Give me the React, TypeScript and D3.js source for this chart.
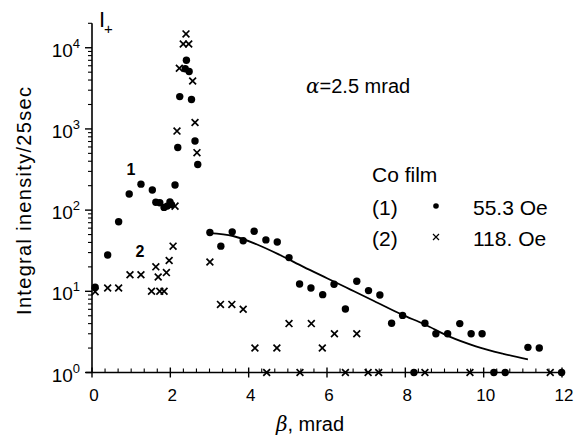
import React from 'react';
import * as d3 from 'd3';

// Co film, curve (1): 55.3 Oe (dots)
const beta1 = [0.08, 0.4, 0.68, 0.95, 1.25, 1.54, 1.63, 1.73, 1.84, 1.92, 1.99, 2.03, 2.12, 2.19, 2.24, 2.38, 2.41, 2.48, 2.54, 2.63, 2.7,
  3.01, 3.29, 3.58, 3.86, 4.14, 4.44, 4.73, 5.03, 5.3, 5.59, 5.89, 6.18, 6.47, 6.76, 7.06, 7.35, 7.65, 7.93, 8.22, 8.5,
  8.78, 9.08, 9.39, 9.68, 9.96, 10.26, 10.55, 11.13, 11.42, 11.99];
const counts1 = [11.2, 28, 72, 158, 209, 177, 125, 123, 108, 112, 126, 117, 204, 590, 2500, 5500, 7000, 5100, 2300, 710, 365,
  53, 36, 54, 42, 55, 43, 40.5, 26, 12.3, 11, 9.1, 12.2, 6.05, 13.3, 10.2, 9.0, 4.05, 5.05, 1, 4.05,
  3.0, 3.0, 4.0, 3.0, 3.0, 1, 1, 2.04, 2.0, 1];

// Co film, curve (2): 118. Oe (crosses)
const beta2 = [0.08, 0.4, 0.68, 0.97, 1.25, 1.52, 1.63, 1.69, 1.73, 1.84, 1.9, 1.97, 2.07, 2.12, 2.17, 2.23, 2.33, 2.4, 2.47, 2.57, 2.63, 2.68,
  3.01, 3.28, 3.57, 3.86, 4.16, 4.46, 4.72, 5.03, 5.31, 5.6, 5.88, 6.19, 6.47, 6.76, 7.05, 7.32, 8.5, 9.65, 11.7];
const counts2 = [9.9, 11, 11, 16, 16, 10, 20, 15, 10, 10, 17, 24, 36, 112, 940, 5600, 11100, 14800, 11100, 3900, 1200, 510,
  23, 6.9, 6.9, 6.0, 2.0, 1, 2.0, 4.0, 1, 4.0, 2.0, 3.0, 1, 3.0, 1, 1, 1, 1, 1];

// fitted curve through (1)
const fitBeta = [3.0, 3.6, 4.2, 4.8, 5.4, 6.0, 6.6, 7.2, 7.9, 8.5, 9.1, 9.8, 10.5, 11.13];
const fitCounts = [52, 48, 38, 28, 20, 14.5, 10.5, 7.6, 5.2, 3.9, 2.8, 2.1, 1.7, 1.45];

const xTickLabels = ['0', '2', '4', '6', '8', '10', '12'];
const yDecades = [0, 1, 2, 3, 4];

const W = 583;
const H = 436;
const font = 'Arial, "Liberation Sans", Helvetica, sans-serif';

export default function App() {
  const x = d3.scaleLinear().domain([0, 12]).range([92, 562]);
  const y = d3.scaleLog().domain([1, 20000]).range([372.5, 23.3]);

  const minorY: number[] = [];
  yDecades.forEach((d) => {
    for (let m = 2; m <= 9; m++) {
      const v = m * Math.pow(10, d);
      if (v <= 20000) minorY.push(v);
    }
  });
  const minorX = d3.range(0, 36).map((i) => i / 3).filter((v, i) => i % 6 !== 0 && v <= 12);

  const fitLine = d3
    .line<number>()
    .x((_, i) => x(fitBeta[i]))
    .y((d) => y(d))
    .curve(d3.curveMonotoneX);

  const pts1 = beta1.map((b, i) => [x(b), y(counts1[i])]);
  const pts2 = beta2.map((b, i) => [x(b), y(counts2[i])]);
  const cross = (cx: number, cy: number, s: number) =>
    `M${cx - s},${cy - s}L${cx + s},${cy + s}M${cx - s},${cy + s}L${cx + s},${cy - s}`;

  return (
    <svg width={W} height={H} style={{ position: 'absolute', left: 0, top: 0, background: '#fff' }} fontFamily={font}>
      {/* axes */}
      <line x1={x(0)} x2={x(0)} y1={y(20000)} y2={y(1)} stroke="#000" strokeWidth={1.6} />
      <line x1={86} x2={565} y1={y(1)} y2={y(1)} stroke="#000" strokeWidth={1.6} />
      {yDecades.map((d) => (
        <line key={'yM' + d} x1={x(0) - 7} x2={x(0)} y1={y(Math.pow(10, d))} y2={y(Math.pow(10, d))} stroke="#000" strokeWidth={1.4} />
      ))}
      {minorY.map((v) => (
        <line key={'ym' + v} x1={x(0) - 4} x2={x(0)} y1={y(v)} y2={y(v)} stroke="#000" strokeWidth={1.1} />
      ))}
      {xTickLabels.map((t) => (
        <line key={'xM' + t} x1={x(+t)} x2={x(+t)} y1={y(1) - 5} y2={y(1) + 5} stroke="#000" strokeWidth={1.4} />
      ))}
      {minorX.map((v) => (
        <line key={'xm' + v} x1={x(v)} x2={x(v)} y1={y(1) - 4} y2={y(1)} stroke="#000" strokeWidth={1.1} />
      ))}

      {/* tick labels */}
      {xTickLabels.map((t) => (
        <text key={'xl' + t} x={x(+t) + 2} y={401} fontSize={17} textAnchor="middle">{t}</text>
      ))}
      {yDecades.map((d) => (
        <text key={'yl' + d} x={80} y={y(Math.pow(10, d)) + 9} fontSize={19} textAnchor="end">
          10<tspan dy={-9} fontSize={13}>{d}</tspan>
        </text>
      ))}

      {/* axis titles */}
      <text x={99} y={27} fontSize={22}>I</text>
      <text x={104} y={34} fontSize={15}>+</text>
      <text transform="translate(31,201) rotate(-90)" fontSize={20} textAnchor="middle" textLength={228} lengthAdjust="spacing">
        Integral inensity/25sec
      </text>
      <text x={310} y={431} fontSize={20} textAnchor="middle">
        <tspan fontStyle="italic" fontFamily='"DejaVu Serif", serif'>β</tspan>, mrad
      </text>

      {/* annotations */}
      <text x={306} y={93} fontSize={20}>
        <tspan fontStyle="italic" fontFamily='"DejaVu Serif", serif'>α</tspan>=2.5 mrad
      </text>
      <text x={131} y={175} fontSize={16} fontWeight="bold" textAnchor="middle">1</text>
      <text x={140} y={257} fontSize={16} fontWeight="bold" textAnchor="middle">2</text>

      {/* legend */}
      <text x={372} y={182} fontSize={21}>Co film</text>
      <text x={372} y={215} fontSize={21}>(1)</text>
      <circle cx={436} cy={206} r={2.8} fill="#000" />
      <text x={473} y={215} fontSize={21}>55.3 Oe</text>
      <text x={372} y={246} fontSize={21}>(2)</text>
      <path d={cross(436, 237, 3)} stroke="#000" strokeWidth={1.2} fill="none" />
      <text x={473} y={246} fontSize={21}>118. Oe</text>

      {/* fit curve */}
      <path d={fitLine(fitCounts) || ''} fill="none" stroke="#000" strokeWidth={1.8} />

      {/* data */}
      {pts2.map(([cx, cy], i) => (
        <path key={'c' + i} d={cross(cx, cy, 3.4)} stroke="#000" strokeWidth={1.7} fill="none" />
      ))}
      {pts1.map(([cx, cy], i) => (
        <circle key={'d' + i} cx={cx} cy={cy} r={3.7} fill="#000" />
      ))}
    </svg>
  );
}
